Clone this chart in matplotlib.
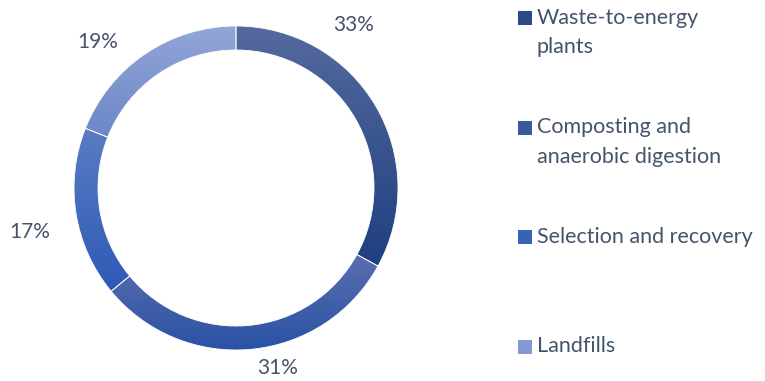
import numpy as np
import matplotlib
matplotlib.use("Agg")
from matplotlib import pyplot as plt
from matplotlib.colors import LinearSegmentedColormap
from matplotlib.patches import Rectangle

plt.rcParams['font.family'] = ['Lato', 'DejaVu Sans']

categories = ['Waste-to-energy\nplants', 'Composting and\nanaerobic digestion',
              'Selection and recovery', 'Landfills']
shares = [33, 31, 17, 19]

# gradient top -> bottom per segment, and legend swatch colours
grad_top = ['#556a9e', '#5a6eae', '#5a7cc2', '#93a6d8']
grad_bot = ['#1f3f80', '#2a52a6', '#2d5ab6', '#6d87c8']
swatch = ['#2c4a8a', '#3a5aa0', '#3762b8', '#8499d3']

# label placement (angle clockwise from top, radius)
lab_ang = [35.7, 166.9, 257.9, 316.6]
lab_rad = [1.24, 1.14, 1.30, 1.24]

txt_color = '#44546A'

W, H = 765, 381
fig = plt.figure(figsize=(W / 100, H / 100), dpi=100)

cx, cy, R = 236, 188, 162
lim = 1.3
side = 2 * lim * R
ax = fig.add_axes([(cx - side / 2) / W, (H - cy - side / 2) / H, side / W, side / H])

wedges, _ = ax.pie(shares, startangle=90, counterclock=False, radius=1,
                   wedgeprops=dict(width=24 / 162, edgecolor='white', linewidth=0.6))

for i, w in enumerate(wedges):
    ext = w.get_path().get_extents()
    cmap = LinearSegmentedColormap.from_list('g%d' % i, [grad_top[i], grad_bot[i]])
    img = ax.imshow(np.linspace(0, 1, 256).reshape(-1, 1), cmap=cmap, aspect='auto',
                    extent=(ext.x0, ext.x1, ext.y0, ext.y1), origin='upper', zorder=0.5)
    img.set_clip_path(w)
    w.set_facecolor('none')

for i, s in enumerate(shares):
    a = np.radians(lab_ang[i])
    ax.text(lab_rad[i] * np.sin(a), lab_rad[i] * np.cos(a), '%d%%' % s,
            ha='center', va='center', fontsize=15, color=txt_color, clip_on=False)

ax.set_xlim(-lim, lim)
ax.set_ylim(-lim, lim)
ax.set_aspect('equal')
ax.axis('off')

# legend drawn by hand so entries keep even spacing
leg_y0, leg_step = 18, 109.5
for i, lab in enumerate(categories):
    y = leg_y0 + i * leg_step
    fig.patches.append(Rectangle((518 / W, 1 - (y + 7) / H), 14 / W, 14 / H,
                                 transform=fig.transFigure, facecolor=swatch[i],
                                 edgecolor='none'))
    fig.text(537 / W, 1 - (y - 10.5) / H, lab, ha='left', va='top', fontsize=15.5,
             color=txt_color, linespacing=1.6)

fig.savefig('out.png', dpi=100)
